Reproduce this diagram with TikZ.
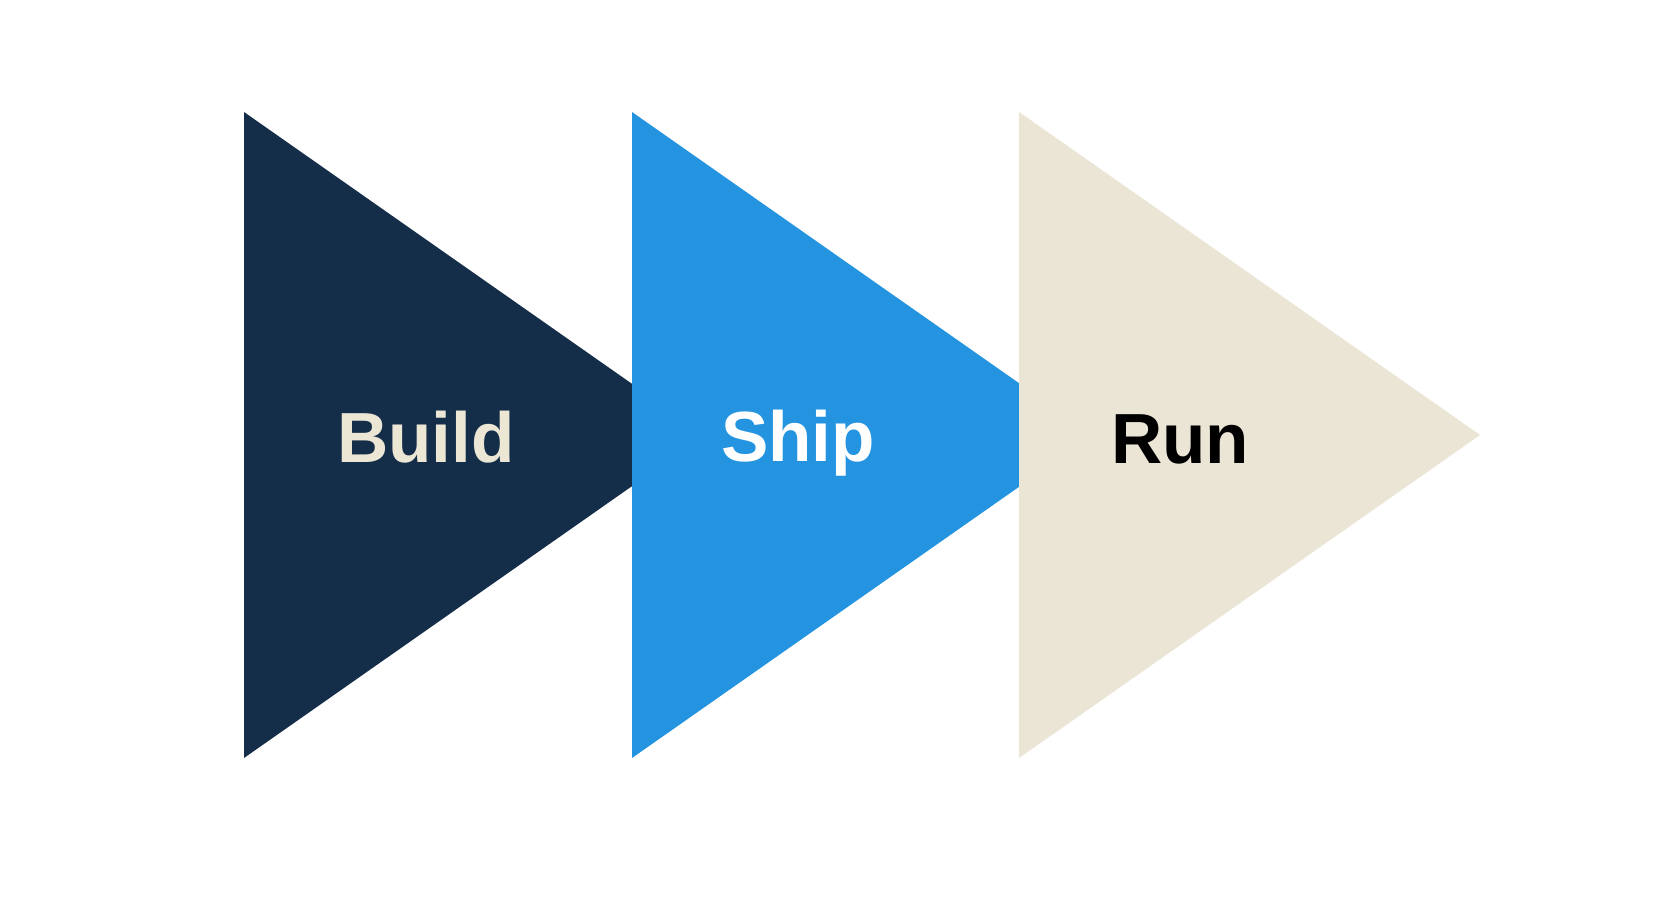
\documentclass[tikz,border=0pt]{standalone}
\usepackage{fontspec}
\setmainfont{Liberation Sans}
\definecolor{navy}{RGB}{20,45,72}
\definecolor{skyblue}{RGB}{36,148,224}
\definecolor{sand}{RGB}{234,229,213}
\definecolor{cream}{RGB}{236,230,213}
\tikzset{
  label/.style={anchor=base, inner sep=0pt, font=\fontsize{71}{84}\selectfont\bfseries},
}
\begin{document}
\begin{tikzpicture}[x=1pt,y=1pt]
\useasboundingbox[fill=white] (0,0) rectangle (1666,-923);
\fill[navy] (244,-112) -- (705,-435) -- (244,-758) -- cycle;
\fill[skyblue] (632,-112) -- (1093,-435) -- (632,-758) -- cycle;
\fill[sand] (1019,-112) -- (1480,-435) -- (1019,-758) -- cycle;
\node[label, text=cream] (build) at (426,-462) {Build};
\node[label, text=white] (ship) at (798,-461) {Ship};
\node[label, text=black] (run) at (1180,-463) {Run};
\end{tikzpicture}
\end{document}
